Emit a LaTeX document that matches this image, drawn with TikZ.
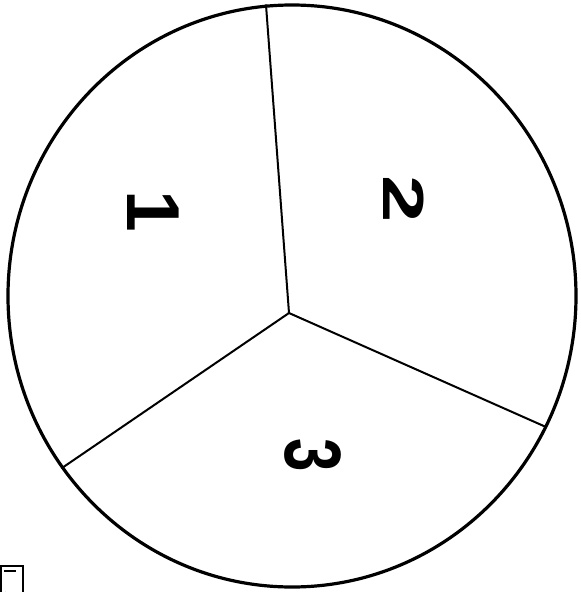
\documentclass[tikz,border=0pt]{standalone}
\usepackage{fontspec}
\setmainfont{Liberation Sans}
\begin{document}
\begin{tikzpicture}[x=1pt,y=-1pt,
  rim/.style={line width=3.2pt, line cap=round},
  spoke/.style={line width=2pt, line cap=round},
  digit/.style={rotate=-90, inner sep=0pt, font=\fontsize{10}{12}\selectfont\bfseries}]
\useasboundingbox (0,0) rectangle (581,592);
\fill[white] (0,0) rectangle (581,592);
% wheel
\draw[rim] (292,296) ellipse [x radius=284, y radius=291];
\coordinate (c) at (289,313);
\coordinate (t) at (266,5);
\coordinate (l) at (62,468);
\coordinate (r) at (546,427);
\draw[spoke] (c) -- (t);
\draw[spoke] (c) -- (l);
\draw[spoke] (c) -- (r);
% numbers
\node[digit] (n1) at (153,211) {\scalebox{7.5}[7.5]{1}};
\node[digit] (n2) at (404,199) {\scalebox{8.5}[5.8]{2}};
\node[digit] (n3) at (313,455) {\scalebox{6}[8]{3}};
% corner mark
\draw[line width=2.4pt] (1,600) -- (1,566) -- (23,566) -- (23,600);
\draw[line width=1.4pt] (4,571) -- (16,571);
\draw[line width=1.4pt] (6,592) arc[start angle=0, end angle=90, radius=6];
\end{tikzpicture}
\end{document}
